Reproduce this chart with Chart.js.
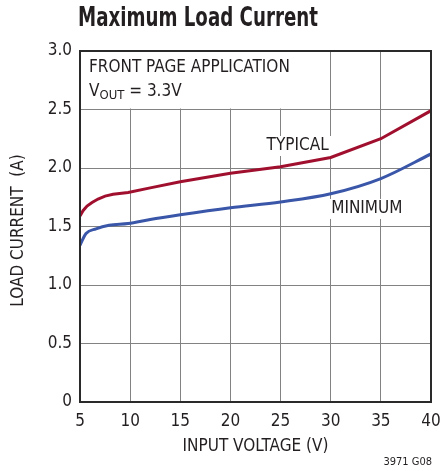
<!DOCTYPE html>
<html>
<head>
<meta charset="utf-8">
<script src="https://cdn.jsdelivr.net/npm/chart.js@4.4.0/dist/chart.umd.min.js"></script>
<style>
  html, body { margin: 0; padding: 0; background: #fff; }
  #wrap { width: 441px; height: 471px; }
</style>
</head>
<body>
<div id="wrap"><canvas id="chart" width="441" height="471"></canvas></div>
<script>
// data
const voltTypical = [5, 5.3, 5.7, 6.2, 6.8, 7.5, 8.3, 9.8, 12, 15, 20, 25, 30, 35, 40];
const loadTypical = [1.59, 1.635, 1.675, 1.705, 1.735, 1.76, 1.775, 1.79, 1.83, 1.883, 1.955, 2.01, 2.09, 2.25, 2.49];
const voltMinimum = [5, 5.6, 6.6, 7.9, 9.8, 12, 15, 20, 25, 30, 35, 40];
const loadMinimum = [1.34, 1.44, 1.48, 1.51, 1.525, 1.56, 1.60, 1.66, 1.71, 1.78, 1.91, 2.12];
const xTicks = [5, 10, 15, 20, 25, 30, 35, 40];
const yTicks = [0, 0.5, 1.0, 1.5, 2.0, 2.5, 3.0];

const FONT = "'Liberation Sans Narrow', 'DejaVu Sans Condensed', 'Roboto', sans-serif";
const RED = '#a0102e';
const BLUE = '#3a56a8';

const toPts = (xs, ys) => xs.map((x, i) => ({ x: x, y: ys[i] }));

// textes, cadre et masques blancs
const decorPlugin = {
    id: 'decor',
    beforeDatasetsDraw(chart) {
        const { ctx, chartArea: a, scales: { x, y } } = chart;
        ctx.save();
        ctx.fillStyle = '#fff';
        // zone de l'encart en haut à gauche
        ctx.fillRect(a.left, a.top, x.getPixelForValue(30) - a.left - 1, y.getPixelForValue(2.5) - a.top - 1);
        // fonds des étiquettes
        ctx.font = '17px ' + FONT;
        const lbl = [['TYPICAL', x.getPixelForValue(26.7), y.getPixelForValue(2.188)],
                     ['MINIMUM', x.getPixelForValue(33.6), y.getPixelForValue(1.65)]];
        lbl.forEach(([t, cx, cy]) => {
            const w = ctx.measureText(t).width;
            ctx.fillRect(cx - w / 2 - 3, cy - 10, w + 6, 20);
        });
        ctx.restore();
    },
    afterDraw(chart) {
        const { ctx, chartArea: a, scales: { x, y } } = chart;
        ctx.save();
        ctx.strokeStyle = '#2a2a2a';
        ctx.lineWidth = 2;
        ctx.strokeRect(a.left, a.top, a.right - a.left, a.bottom - a.top);

        ctx.fillStyle = '#231f20';
        ctx.textBaseline = 'middle';

        // titre (police condensée, resserrée à la largeur du modèle)
        ctx.textAlign = 'left';
        ctx.font = 'bold 27px ' + FONT;
        const tw = ctx.measureText('Maximum Load Current').width;
        ctx.save();
        ctx.translate(78, 19);
        ctx.scale(240 / tw, 1);
        ctx.fillText('Maximum Load Current', 0, 0);
        ctx.restore();

        // encart
        ctx.font = '17px ' + FONT;
        ctx.fillText('FRONT PAGE APPLICATION', 89, 68);
        let px = 89;
        ctx.fillText('V', px, 92);
        px += ctx.measureText('V').width;
        ctx.font = '13px ' + FONT;
        ctx.fillText('OUT', px, 96);
        px += ctx.measureText('OUT').width;
        ctx.font = '17px ' + FONT;
        ctx.fillText(' = 3.3V', px, 92);

        // étiquettes des courbes
        ctx.textAlign = 'center';
        ctx.fillText('TYPICAL', x.getPixelForValue(26.7), y.getPixelForValue(2.188));
        ctx.fillText('MINIMUM', x.getPixelForValue(33.6), y.getPixelForValue(1.65));

        // titres des axes
        ctx.fillText('INPUT VOLTAGE (V)', (a.left + a.right) / 2, 447);
        ctx.save();
        ctx.translate(19, (a.top + a.bottom) / 2 + 4);
        ctx.rotate(-Math.PI / 2);
        ctx.fillText('LOAD CURRENT  (A)', 0, 0);
        ctx.restore();

        ctx.textAlign = 'right';
        ctx.font = '11px ' + FONT;
        ctx.fillText('3971 G08', 432, 462);
        ctx.restore();
    }
};

new Chart(document.getElementById('chart'), {
    type: 'line',
    data: {
        datasets: [
            { label: 'TYPICAL', data: toPts(voltTypical, loadTypical), borderColor: RED, borderWidth: 3, pointRadius: 0, tension: 0 },
            { label: 'MINIMUM', data: toPts(voltMinimum, loadMinimum), borderColor: BLUE, borderWidth: 3, pointRadius: 0, cubicInterpolationMode: 'monotone' }
        ]
    },
    options: {
        responsive: false,
        animation: false,
        layout: { padding: { top: 51, right: 10, left: 0, bottom: 0 } },
        plugins: { legend: { display: false }, tooltip: { enabled: false }, title: { display: false } },
        scales: {
            x: {
                type: 'linear', min: 5, max: 40,
                afterBuildTicks: s => { s.ticks = xTicks.map(v => ({ value: v })); },
                afterFit: s => { s.height = 69; s.paddingLeft = 0; s.paddingRight = 0; },
                grid: { color: '#828282', lineWidth: 1, drawTicks: false },
                border: { display: false },
                ticks: { color: '#231f20', font: { family: FONT, size: 17 }, padding: 9, maxRotation: 0 }
            },
            y: {
                min: 0, max: 3,
                afterBuildTicks: s => { s.ticks = yTicks.map(v => ({ value: v })); },
                afterFit: s => { s.width = 80; s.paddingTop = 0; s.paddingBottom = 0; },
                grid: { color: '#828282', lineWidth: 1, drawTicks: false },
                border: { display: false },
                ticks: {
                    color: '#231f20', font: { family: FONT, size: 17 }, padding: 8,
                    callback: v => v === 0 ? '0' : v.toFixed(1)
                }
            }
        }
    },
    plugins: [decorPlugin]
});
</script>
</body>
</html>
